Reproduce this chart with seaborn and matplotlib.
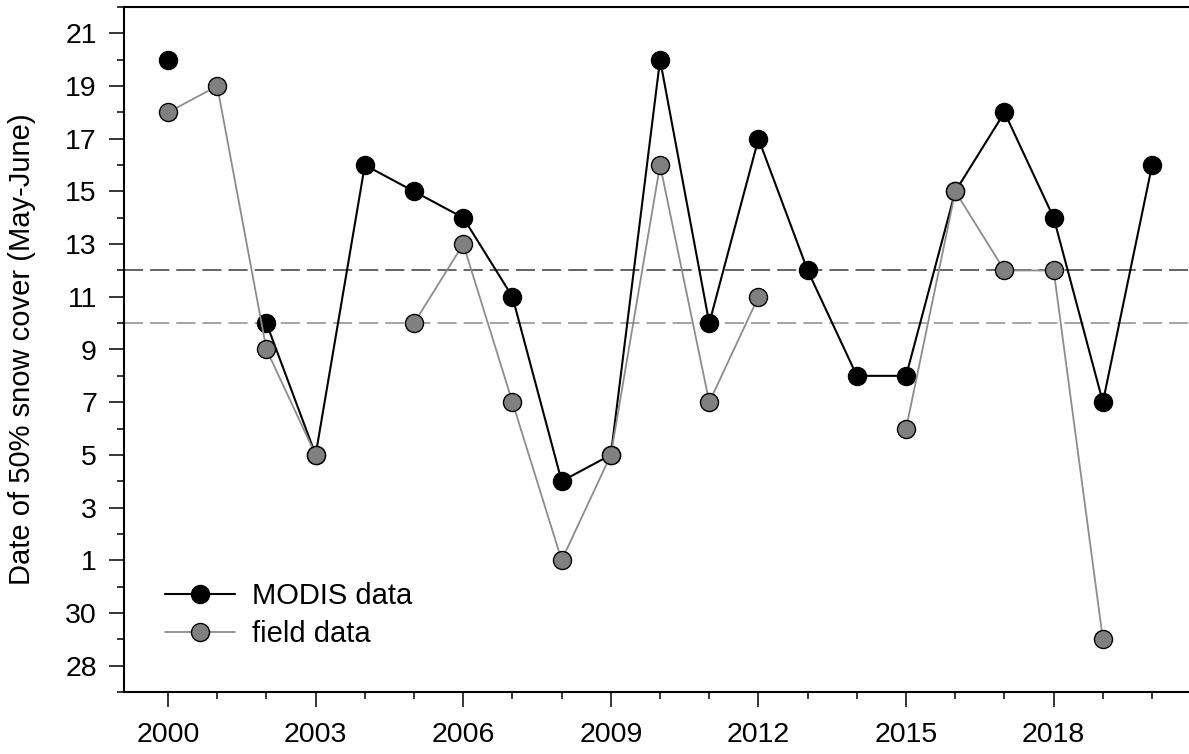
import numpy as np
import pandas as pd
import matplotlib
matplotlib.use("Agg")
import matplotlib.pyplot as plt
from matplotlib.lines import Line2D
import seaborn as sns

# ---- data (day numbers: June 1 = 1, May 31 = 0, May 30 = -1, May 29 = -2, May 28 = -3)
years = list(range(2000, 2021))
modis = [20, np.nan, 10, 5, 16, 15, 14, 11, 4, 5, 20, 10, 17, 12, 8, 8, 15, 18, 14, 7, 16]
field = [18, 19, 9, 5, np.nan, 10, 13, 7, 1, 5, 16, 7, 11, np.nan, np.nan, 6, 15, 12, 12, -2, np.nan]
ref_lines = [12, 10]
ytick_vals = [-3, -1, 1, 3, 5, 7, 9, 11, 13, 15, 17, 19, 21]
ytick_labels = ["28", "30", "1", "3", "5", "7", "9", "11", "13", "15", "17", "19", "21"]
xtick_vals = [2000, 2003, 2006, 2009, 2012, 2015, 2018]
series_names = ["MODIS data", "field data"]
ylabel = "Date of 50% snow cover (May-June)"


def segments(x, y):
    df = pd.DataFrame({"year": x, "value": y})
    df["seg"] = df["value"].isna().cumsum()
    return df.dropna()


sns.set_theme(style="ticks")
plt.rcParams["font.family"] = ["Liberation Sans", "DejaVu Sans"]
plt.rcParams["text.color"] = "black"
plt.rcParams["axes.labelcolor"] = "black"

fig = plt.figure(figsize=(11.89, 7.54), dpi=100)
ax = fig.add_axes([124 / 1189, 1 - 692 / 754, (1189 - 124) / 1189, (692 - 7) / 754])

# reference dashed lines
ax.axhline(ref_lines[0], color="#3a3a3a", lw=1.1, dashes=(12.5, 4.6), zorder=1)
ax.axhline(ref_lines[1], color="#8c8c8c", lw=1.1, dashes=(12.5, 4.6), zorder=1)

dm = segments(years, modis)
sns.lineplot(data=dm, x="year", y="value", units="seg", estimator=None,
             color="black", lw=1.5, marker="o", markersize=13,
             markerfacecolor="black", markeredgecolor="black", markeredgewidth=1.0,
             legend=False, ax=ax, zorder=3)

df_ = segments(years, field)
sns.lineplot(data=df_, x="year", y="value", units="seg", estimator=None,
             color="#8c8c8c", lw=1.3, marker="o", markersize=13,
             markerfacecolor="#808080", markeredgecolor="black", markeredgewidth=1.0,
             legend=False, ax=ax, zorder=4)
for ln in ax.lines[-len(df_["seg"].unique()):]:
    ln.set_markerfacecolor("#808080")
    ln.set_markeredgecolor("black")

ax.set_xlim(1999.105, 2020.75)
ax.set_ylim(-4, 22)
ax.set_xticks(xtick_vals)
ax.set_xticks(years, minor=True)
ax.set_yticks(ytick_vals)
ax.set_yticklabels(ytick_labels)
ax.set_yticks(list(range(-4, 23, 2)), minor=True)

ax.tick_params(axis="both", which="major", direction="out", length=10.5, width=1.1,
               labelsize=20.5, colors="black")
ax.tick_params(axis="x", which="major", pad=11)
ax.tick_params(axis="y", which="major", pad=9)
ax.tick_params(axis="both", which="minor", direction="out", length=5, width=1.1, colors="black")

for side in ["left", "bottom", "top"]:
    ax.spines[side].set_visible(True)
    ax.spines[side].set_linewidth(1.5)
    ax.spines[side].set_color("black")
ax.spines["right"].set_visible(False)

ax.set_xlabel("")
ax.set_ylabel(ylabel, fontsize=21, color="black")
ax.yaxis.set_label_coords(-0.083, 0.5)

handles = [
    Line2D([], [], color="black", lw=1.5, marker="o", markersize=13,
           markerfacecolor="black", markeredgecolor="black"),
    Line2D([], [], color="#8c8c8c", lw=1.3, marker="o", markersize=13,
           markerfacecolor="#808080", markeredgecolor="black"),
]
leg = ax.legend(handles, series_names, loc="upper left",
                bbox_to_anchor=(165 / 1189, 1 - 582 / 754),
                bbox_transform=fig.transFigure, frameon=False, fontsize=21,
                handlelength=2.4, handletextpad=0.58, labelspacing=0.36,
                borderpad=0, borderaxespad=0)
for t in leg.get_texts():
    t.set_color("black")

fig.savefig("out.png", dpi=100)
